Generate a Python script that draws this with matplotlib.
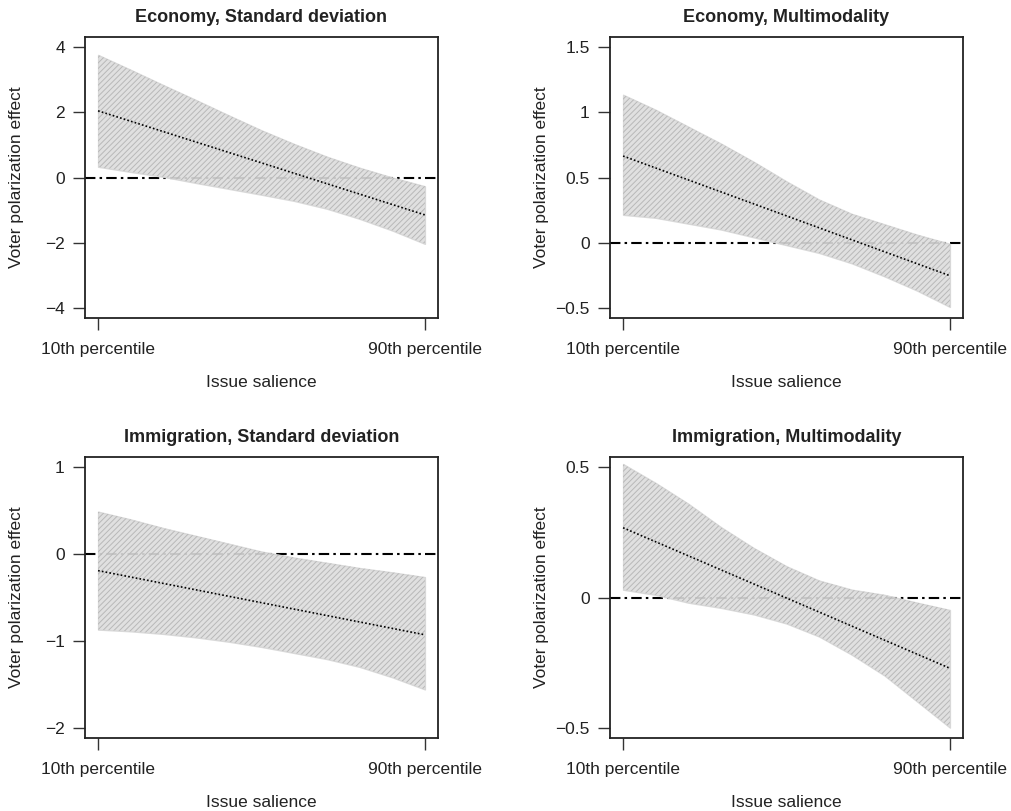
import matplotlib
matplotlib.use("Agg")
import matplotlib.pyplot as plt
import numpy as np

plt.rcParams['font.family'] = ['Liberation Sans', 'DejaVu Sans']
plt.rcParams['hatch.linewidth'] = 0.7

# salience grid: 0 = 10th percentile, 1 = 90th percentile
salience = [0.0, 0.1, 0.2, 0.3, 0.4, 0.5, 0.6, 0.7, 0.8, 0.9, 1.0]
tick_labels = ['10th percentile', '90th percentile']

titles = ['Economy, Standard deviation', 'Economy, Multimodality',
          'Immigration, Standard deviation', 'Immigration, Multimodality']

econ_sd_mid = [2.05, 1.73, 1.41, 1.09, 0.77, 0.45, 0.13, -0.19, -0.51, -0.83, -1.15]
econ_sd_hi = [3.77, 3.31, 2.84, 2.38, 1.91, 1.45, 1.03, 0.64, 0.30, 0.0, -0.27]
econ_sd_lo = [0.33, 0.17, 0.02, -0.17, -0.35, -0.53, -0.72, -0.96, -1.27, -1.63, -2.04]

econ_mm_mid = [0.665, 0.573, 0.481, 0.389, 0.297, 0.205, 0.113, 0.021, -0.071, -0.163, -0.255]
econ_mm_hi = [1.136, 1.02, 0.89, 0.76, 0.62, 0.47, 0.33, 0.22, 0.14, 0.06, -0.01]
econ_mm_lo = [0.213, 0.19, 0.145, 0.10, 0.04, -0.02, -0.08, -0.16, -0.26, -0.37, -0.495]

imm_sd_mid = [-0.19, -0.264, -0.338, -0.412, -0.486, -0.56, -0.634, -0.708, -0.782, -0.856, -0.93]
imm_sd_hi = [0.49, 0.40, 0.30, 0.21, 0.12, 0.03, -0.04, -0.10, -0.16, -0.21, -0.265]
imm_sd_lo = [-0.87, -0.89, -0.92, -0.96, -1.01, -1.07, -1.14, -1.21, -1.30, -1.42, -1.56]

imm_mm_mid = [0.268, 0.214, 0.16, 0.106, 0.052, -0.002, -0.056, -0.11, -0.164, -0.218, -0.272]
imm_mm_hi = [0.513, 0.44, 0.36, 0.27, 0.19, 0.12, 0.065, 0.03, 0.01, -0.02, -0.048]
imm_mm_lo = [0.03, 0.01, -0.02, -0.04, -0.065, -0.10, -0.15, -0.22, -0.30, -0.40, -0.50]

mids = [econ_sd_mid, econ_mm_mid, imm_sd_mid, imm_mm_mid]
his = [econ_sd_hi, econ_mm_hi, imm_sd_hi, imm_mm_hi]
los = [econ_sd_lo, econ_mm_lo, imm_sd_lo, imm_mm_lo]

yticks = [[-4, -2, 0, 2, 4], [-0.5, 0, 0.5, 1, 1.5], [-2, -1, 0, 1], [-0.5, 0, 0.5]]
ytick_text = [['\u22124', '\u22122', '0', '2', '4'],
              ['\u22120.5', '0', '0.5', '1', '1.5'],
              ['\u22122', '\u22121', '0', '1'],
              ['\u22120.5', '0', '0.5']]

W, H = 1012, 811
fig = plt.figure(figsize=(W / 100, H / 100), dpi=100)
boxes = [(85, 37), (610, 37), (85, 457), (610, 457)]
bw, bh = 353, 281

for i in range(4):
    l, t = boxes[i]
    ax = fig.add_axes([l / W, 1 - (t + bh) / H, bw / W, bh / H])
    lo_y, hi_y = yticks[i][0], yticks[i][-1]
    pad = 0.04 * (hi_y - lo_y)
    ax.set_ylim(lo_y - pad, hi_y + pad)
    ax.set_xlim(-0.04, 1.04)

    ax.axhline(0, color='black', lw=1.5, linestyle=(0, (5, 2, 1.2, 2)), zorder=1)
    ax.fill_between(salience, los[i], his[i], facecolor='#dddddd', edgecolor='#d6d6d6',
                    lw=1, alpha=0.9, zorder=2)
    ax.fill_between(salience, los[i], his[i], facecolor='none', edgecolor='#b8b8b8',
                    hatch='//////', linewidth=0, zorder=3)
    ax.plot(salience, mids[i], color='black', lw=1.2, linestyle=(0, (1, 1.3)), zorder=4)

    ax.set_xticks([0, 1])
    ax.set_xticklabels(tick_labels)
    ax.set_yticks(yticks[i])
    ax.set_yticklabels(ytick_text[i])
    ax.tick_params(axis='both', length=8.5, width=1, color='#333333', labelsize=12.5,
                   labelcolor='#222222')
    ax.tick_params(axis='x', pad=9)
    ax.tick_params(axis='y', pad=6)
    for sp in ax.spines.values():
        sp.set_linewidth(1.3)
        sp.set_color('#222222')

    ax.set_title(titles[i], fontsize=13, fontweight='bold', color='#222222', pad=11)
    ax.set_xlabel('Issue salience', fontsize=12.5, color='#222222')
    ax.set_ylabel('Voter polarization effect', fontsize=12.5, color='#222222')
    ax.xaxis.set_label_coords(0.5, -0.203)
    ax.yaxis.set_label_coords(-0.172, 0.5)

fig.savefig('out.png', dpi=100)
